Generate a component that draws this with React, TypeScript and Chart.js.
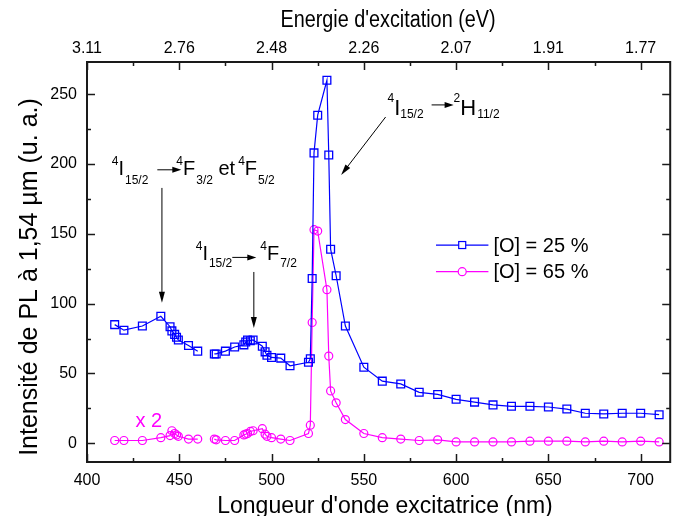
import React, { useEffect, useRef } from 'react';
import { Chart, registerables } from 'chart.js';

Chart.register(...registerables);

// ---------- data ----------
const wavelengths = [
  415, 420, 430, 440, 445, 446, 447.5, 448.5, 449.5, 455, 460, 465,
  469, 470, 475, 480, 485, 486, 487, 488.5, 490, 495, 496.5, 497.5, 500, 505, 510,
  520, 521, 522, 523, 525, 530, 531, 532, 535, 540,
  550, 560, 570, 580, 590, 600, 610, 620, 630, 640, 650, 660, 670, 680, 690, 700, 710,
];
const pl25 = [
  85, 81, 84, 91, 83.5, 80.5, 78, 76, 74, 70, 66, null,
  64, 64, 66, 69, 70.5, 72.5, 74, 73.5, 74, 69.5, 65.5, 63, 61.5, 61, 55.5,
  58, 60.5, 118, 208, 235, 260, 206.5, 139, 120, 84,
  54.5, 44.5, 42.5, 36.5, 35, 31.5, 29.5, 27.5, 26.5, 26.5, 26, 24.5, 21.5, 21, 21.5, 21.5, 20.5,
];
const pl65 = [
  2, 2, 2, 4, 5.5, 9, 7, 6, 5, 3, 3, null,
  3, 2.5, 2, 2, 6, 6.5, 7, 8.5, 9, 10.5, 6.5, 5, 4, 3, 2,
  7, 13, 86.5, 153, 152, 110, 62.5, 37.5, 29, 17,
  7, 4, 3, 2, 2.5, 1, 1, 1, 1, 1.5, 1.5, 1.5, 1, 1.5, 1, 1.5, 1,
];
const seriesLabels = ['[O] = 25 %', '[O] = 65 %'];
const seriesColors = ['#0000ff', '#ff00ff'];

const xTicks = [400, 450, 500, 550, 600, 650, 700];
const energyLabels = ['3.11', '2.76', '2.48', '2.26', '2.07', '1.91', '1.77'];
const yTicks = [0, 50, 100, 150, 200, 250];

const xTitle = "Longueur d'onde excitatrice (nm)";
const x2Title = "Energie d'excitation (eV)";
const yTitle = 'Intensité de PL à 1,54 µm (u. a.)';
const scaleNote = 'x 2';

const X_MIN = 400;
const X_MAX = 716;
const Y_MIN = -13.4;
const Y_MAX = 273.1;

const FONT = '"Liberation Sans", Arial, Helvetica, sans-serif';

// rich-text annotations (positions in data units)
type Seg = { k: 'm' | 'sup' | 'sub' | 'arrow'; t?: string; dx?: number; w?: number; dy?: number };
const annotations: { x: number; y: number; main: number; small: number; sup: number; sub: number; segs: Seg[] }[] = [
  {
    x: 413.4, y: 192.3, main: 20, small: 12, sup: 10, sub: 9,
    segs: [
      { k: 'sup', t: '4' }, { k: 'm', t: 'I' }, { k: 'sub', t: '15/2', dx: 1 },
      { k: 'arrow', w: 24, dx: 9, dy: 5 },
      { k: 'sup', t: '4', dx: -5 }, { k: 'm', t: 'F' }, { k: 'sub', t: '3/2', dx: 1 },
      { k: 'm', t: ' et' }, { k: 'sup', t: '4', dx: 3 }, { k: 'm', t: 'F' }, { k: 'sub', t: '5/2', dx: 1 },
    ],
  },
  {
    x: 458.9, y: 131.0, main: 20, small: 12, sup: 10, sub: 7,
    segs: [
      { k: 'sup', t: '4' }, { k: 'm', t: 'I' }, { k: 'sub', t: '15/2', dx: 1 },
      { k: 'arrow', w: 24, dx: 0, dy: 3 },
      { k: 'sup', t: '4', dx: 4 }, { k: 'm', t: 'F' }, { k: 'sub', t: '7/2', dx: 1 },
    ],
  },
  {
    x: 562.8, y: 235.2, main: 22, small: 12, sup: 13, sub: 3,
    segs: [
      { k: 'sup', t: '4' }, { k: 'm', t: 'I' }, { k: 'sub', t: '15/2', dx: 0 },
      { k: 'arrow', w: 22, dx: 8, dy: 10 },
      { k: 'sup', t: '2', dx: 0 }, { k: 'm', t: 'H' }, { k: 'sub', t: '11/2', dx: 1 },
    ],
  },
];
const pointerArrows = [
  { x1: 440.6, y1: 182.9, x2: 440.6, y2: 100.6 },
  { x1: 490.4, y1: 122.7, x2: 490.4, y2: 82.6 },
  { x1: 561.8, y1: 233.7, x2: 537.7, y2: 192.2 },
];
const notePos = { x: 426.3, y: 11.7 };
const legendPos = { x1: 589.1, x2: 617.5, xm: 603.3, xt: 620.2, rows: [142.0, 122.9] };

function arrowHead(ctx: CanvasRenderingContext2D, x1: number, y1: number, x2: number, y2: number, len: number, half: number) {
  const ang = Math.atan2(y2 - y1, x2 - x1);
  const bx = x2 - len * Math.cos(ang);
  const by = y2 - len * Math.sin(ang);
  ctx.beginPath();
  ctx.moveTo(x2, y2);
  ctx.lineTo(bx + half * Math.sin(ang), by - half * Math.cos(ang));
  ctx.lineTo(bx - half * Math.sin(ang), by + half * Math.cos(ang));
  ctx.closePath();
  ctx.fill();
}

const overlay = {
  id: 'overlay',
  afterDraw(chart: any) {
    const { ctx, chartArea: a, scales } = chart;
    const xs = scales.x;
    const ys = scales.y;
    ctx.save();

    // frame
    ctx.strokeStyle = '#1a1a1a';
    ctx.lineWidth = 2;
    ctx.strokeRect(a.left, a.top, a.right - a.left, a.bottom - a.top);

    // inward ticks
    ctx.lineWidth = 1.5;
    const tick = (x1: number, y1: number, x2: number, y2: number) => {
      ctx.beginPath(); ctx.moveTo(x1, y1); ctx.lineTo(x2, y2); ctx.stroke();
    };
    const xMinor: number[] = [];
    for (let i = 0; i < xTicks.length - 1; i++) xMinor.push((xTicks[i] + xTicks[i + 1]) / 2);
    const yMinor: number[] = [];
    for (let i = 0; i < yTicks.length - 1; i++) yMinor.push((yTicks[i] + yTicks[i + 1]) / 2);
    xTicks.forEach((v) => {
      const p = Math.round(xs.getPixelForValue(v)) + 0.5;
      tick(p, a.bottom, p, a.bottom - 8);
      tick(p, a.top, p, a.top + 8);
    });
    xMinor.forEach((v) => {
      const p = Math.round(xs.getPixelForValue(v)) + 0.5;
      tick(p, a.bottom, p, a.bottom - 4);
      tick(p, a.top, p, a.top + 4);
    });
    yTicks.forEach((v) => {
      const p = Math.round(ys.getPixelForValue(v)) + 0.5;
      tick(a.left, p, a.left + 8, p);
      tick(a.right, p, a.right - 8, p);
    });
    yMinor.forEach((v) => {
      const p = Math.round(ys.getPixelForValue(v)) + 0.5;
      tick(a.left, p, a.left + 4, p);
      tick(a.right, p, a.right - 4, p);
    });

    // axis titles
    ctx.fillStyle = '#000';
    ctx.textBaseline = 'alphabetic';
    ctx.textAlign = 'center';
    ctx.font = `23px ${FONT}`;
    ctx.fillText(xTitle, 385, 513);
    ctx.save();
    ctx.translate(388, 27);
    ctx.scale(0.9, 1.05);
    ctx.font = `22px ${FONT}`;
    ctx.fillText(x2Title, 0, 0);
    ctx.restore();
    ctx.save();
    ctx.translate(37, 277);
    ctx.rotate(-Math.PI / 2);
    ctx.font = `25px ${FONT}`;
    ctx.fillText(yTitle, 0, 0);
    ctx.restore();

    // annotations
    ctx.textAlign = 'left';
    ctx.fillStyle = '#000';
    ctx.strokeStyle = '#000';
    annotations.forEach((an) => {
      let cx = xs.getPixelForValue(an.x);
      const by = ys.getPixelForValue(an.y);
      an.segs.forEach((s) => {
        if (s.dx) cx += s.dx;
        if (s.k === 'arrow') {
          const yy = by - (s.dy || 0);
          const w = s.w || 20;
          ctx.lineWidth = 1;
          ctx.beginPath(); ctx.moveTo(cx, yy); ctx.lineTo(cx + w - 4, yy); ctx.stroke();
          arrowHead(ctx, cx, yy, cx + w, yy, 9, 3);
          cx += w;
          return;
        }
        const size = s.k === 'm' ? an.main : an.small;
        ctx.font = `${size}px ${FONT}`;
        const off = s.k === 'sup' ? -an.sup : s.k === 'sub' ? an.sub : 0;
        ctx.fillText(s.t || '', cx, by + off);
        cx += ctx.measureText(s.t || '').width;
      });
    });
    ctx.lineWidth = 1;
    pointerArrows.forEach((ar) => {
      const x1 = xs.getPixelForValue(ar.x1);
      const y1 = ys.getPixelForValue(ar.y1);
      const x2 = xs.getPixelForValue(ar.x2);
      const y2 = ys.getPixelForValue(ar.y2);
      const ang = Math.atan2(y2 - y1, x2 - x1);
      ctx.beginPath();
      ctx.moveTo(x1, y1);
      ctx.lineTo(x2 - 6 * Math.cos(ang), y2 - 6 * Math.sin(ang));
      ctx.stroke();
      arrowHead(ctx, x1, y1, x2, y2, 11, 3);
    });

    // "x 2" note
    ctx.fillStyle = seriesColors[1];
    ctx.font = `20px ${FONT}`;
    ctx.fillText(scaleNote, xs.getPixelForValue(notePos.x), ys.getPixelForValue(notePos.y));

    // legend
    const lx1 = xs.getPixelForValue(legendPos.x1);
    const lx2 = xs.getPixelForValue(legendPos.x2);
    const lxm = xs.getPixelForValue(legendPos.xm);
    const lxt = xs.getPixelForValue(legendPos.xt);
    legendPos.rows.forEach((rv, i) => {
      const ry = ys.getPixelForValue(rv);
      ctx.strokeStyle = seriesColors[i];
      ctx.lineWidth = 1.2;
      ctx.beginPath(); ctx.moveTo(lx1, ry); ctx.lineTo(lx2, ry); ctx.stroke();
      ctx.fillStyle = '#fff';
      if (i === 0) {
        ctx.fillRect(lxm - 3.5, ry - 3.5, 7, 7);
        ctx.strokeRect(lxm - 3.5, ry - 3.5, 7, 7);
      } else {
        ctx.beginPath(); ctx.arc(lxm, ry, 4, 0, Math.PI * 2); ctx.fill(); ctx.stroke();
      }
      ctx.fillStyle = '#000';
      ctx.font = `20px ${FONT}`;
      ctx.textBaseline = 'middle';
      ctx.fillText(seriesLabels[i], lxt, ry + 1);
      ctx.textBaseline = 'alphabetic';
    });

    ctx.restore();
  },
};

export default function App() {
  const ref = useRef<HTMLCanvasElement | null>(null);
  useEffect(() => {
    if (!ref.current) return;
    const tickFont = { family: FONT, size: 16 };
    const setTicks = (vals: number[]) => (s: any) => {
      s.ticks = vals.map((v) => ({ value: v }));
    };
    const chart = new Chart(ref.current, {
      type: 'line',
      data: {
        datasets: [
          {
            label: seriesLabels[0],
            data: wavelengths.map((w, i) => ({ x: w, y: pl25[i] })) as any,
            borderColor: seriesColors[0],
            borderWidth: 1.2,
            pointStyle: 'rect',
            pointRadius: 5.5,
            pointBorderColor: seriesColors[0],
            pointBackgroundColor: 'rgba(255,255,255,0)',
            pointBorderWidth: 1.3,
            spanGaps: false,
            tension: 0,
          },
          {
            label: seriesLabels[1],
            data: wavelengths.map((w, i) => ({ x: w, y: pl65[i] })) as any,
            borderColor: seriesColors[1],
            borderWidth: 1.2,
            pointStyle: 'circle',
            pointRadius: 4,
            pointBorderColor: seriesColors[1],
            pointBackgroundColor: 'rgba(255,255,255,0)',
            pointBorderWidth: 1.2,
            spanGaps: false,
            tension: 0,
          },
        ],
      },
      options: {
        responsive: false,
        maintainAspectRatio: false,
        animation: false,
        devicePixelRatio: 1,
        layout: { padding: 0 },
        plugins: { legend: { display: false }, tooltip: { enabled: false } },
        scales: {
          x: {
            type: 'linear',
            position: 'bottom',
            min: X_MIN,
            max: X_MAX,
            afterBuildTicks: setTicks(xTicks),
            afterFit: (s: any) => { s.height = 54; },
            grid: { display: false, drawTicks: false },
            border: { display: false },
            ticks: { padding: 9, color: '#000', font: tickFont, maxRotation: 0, autoSkip: false },
          },
          x2: {
            type: 'linear',
            position: 'top',
            min: X_MIN,
            max: X_MAX,
            afterBuildTicks: setTicks(xTicks),
            afterFit: (s: any) => { s.height = 62; },
            grid: { display: false, drawTicks: false },
            border: { display: false },
            ticks: {
              padding: 4,
              color: '#000',
              font: tickFont,
              maxRotation: 0,
              autoSkip: false,
              callback: (v: any) => {
                const i = xTicks.indexOf(Number(v));
                return i >= 0 ? energyLabels[i] : '';
              },
            },
          },
          y: {
            type: 'linear',
            min: Y_MIN,
            max: Y_MAX,
            afterBuildTicks: setTicks(yTicks),
            afterFit: (s: any) => { s.width = 87; },
            grid: { display: false, drawTicks: false },
            border: { display: false },
            ticks: { padding: 10, color: '#000', font: tickFont },
          },
        },
      } as any,
      plugins: [overlay],
    });
    return () => chart.destroy();
  }, []);
  return (
    <canvas
      ref={ref}
      width={677}
      height={516}
      style={{ position: 'absolute', left: 0, top: 0, width: 677, height: 516, background: '#fff' }}
    />
  );
}
